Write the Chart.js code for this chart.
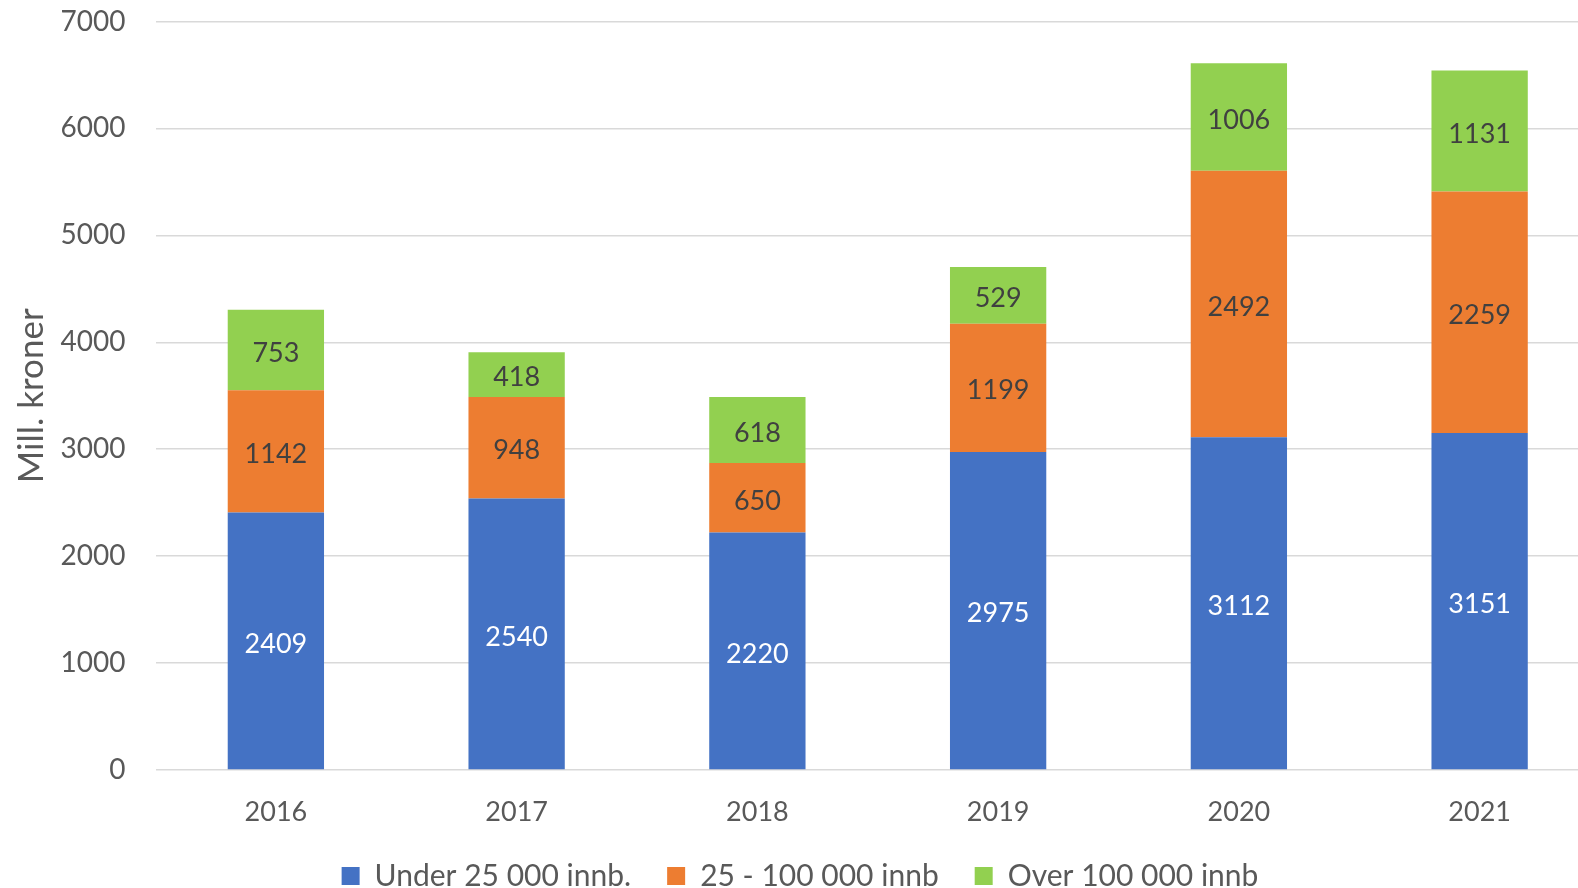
<!DOCTYPE html>
<html lang="no">
<head>
  <meta charset="UTF-8">
  <title>Mill. kroner</title>
  <script src="https://cdn.jsdelivr.net/npm/chart.js"></script>
  <style>
    html, body { margin: 0; padding: 0; background: #fff; overflow: hidden; }
    #wrap { width: 1600px; height: 901px; }
  </style>
</head>
<body>
  <div id="wrap"><canvas id="myChart"></canvas></div>
  <script>
    // data
    const years = ['2016', '2017', '2018', '2019', '2020', '2021'];
    const under25 = [2409, 2540, 2220, 2975, 3112, 3151];
    const mid25to100 = [1142, 948, 650, 1199, 2492, 2259];
    const over100 = [753, 418, 618, 529, 1006, 1131];

    const fontFam = 'Lato, "Open Sans", sans-serif';

    // draw value in the middle of each bar segment
    const barLabels = {
      id: 'barLabels',
      afterDatasetsDraw(chart) {
        const ctx = chart.ctx;
        ctx.save();
        ctx.font = '27px ' + fontFam;
        ctx.textAlign = 'center';
        ctx.textBaseline = 'middle';
        chart.data.datasets.forEach((ds, i) => {
          const meta = chart.getDatasetMeta(i);
          meta.data.forEach((bar, j) => {
            const p = bar.getCenterPoint();
            ctx.fillStyle = ds.labelColor;
            ctx.fillText(ds.data[j], p.x, p.y + 3);
          });
        });
        ctx.restore();
      }
    };

    const ctx = document.getElementById('myChart').getContext('2d');
    const myChart = new Chart(ctx, {
      type: 'bar',
      data: {
        labels: years,
        datasets: [
          { label: 'Under 25 000 innb.', data: under25, backgroundColor: '#4472C4', labelColor: '#ffffff' },
          { label: '25 - 100 000 innb', data: mid25to100, backgroundColor: '#ED7D31', labelColor: '#404040' },
          { label: 'Over 100 000 innb', data: over100, backgroundColor: '#92D050', labelColor: '#404040' }
        ]
      },
      options: {
        responsive: true,
        maintainAspectRatio: false,
        animation: false,
        barPercentage: 0.4,
        categoryPercentage: 1.0,
        layout: { padding: { top: 21.5, right: 0, left: 0, bottom: 0 } },
        scales: {
          x: {
            stacked: true,
            grid: { display: false },
            border: { display: false },
            ticks: { color: '#595959', font: { family: fontFam, size: 27 }, padding: 18 },
            afterFit(scale) { scale.height = 55; }
          },
          y: {
            stacked: true,
            min: 0,
            max: 7000,
            ticks: { stepSize: 1000, color: '#595959', font: { family: fontFam, size: 28 }, padding: 4, callback: v => v },
            grid: { color: '#d9d9d9', lineWidth: 1.5, drawTicks: true, tickLength: 26, tickColor: 'rgba(0,0,0,0)' },
            border: { display: false },
            title: { display: true, text: 'Mill. kroner', color: '#595959', font: { family: fontFam, size: 35 }, padding: 11 },
            afterFit(scale) { scale.width = 155.5; }
          }
        },
        plugins: {
          tooltip: { enabled: false },
          legend: {
            position: 'bottom',
            labels: {
              color: '#595959',
              boxWidth: 18,
              boxHeight: 18,
              padding: 36,
              font: { family: fontFam, size: 30 }
            }
          }
        }
      },
      plugins: [barLabels]
    });
  </script>
</body>
</html>
